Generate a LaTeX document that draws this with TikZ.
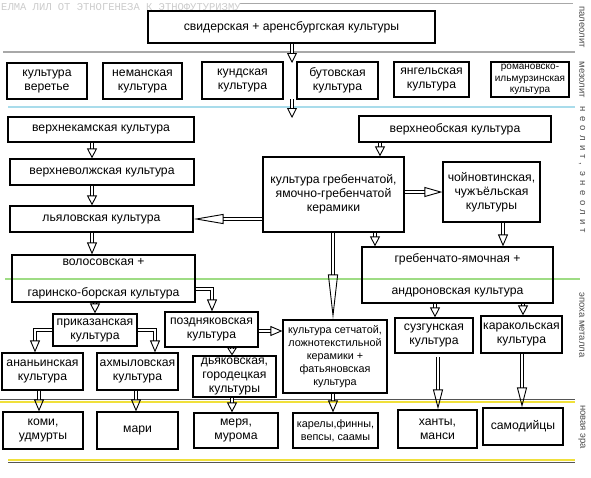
\documentclass[tikz,border=0pt]{standalone}
\usepackage{fontspec}
\setmainfont{Liberation Sans}
\newfontfamily\wmfont{Liberation Mono}
\newfontfamily\spacedfont[LetterSpace=45]{Liberation Sans}
\usetikzlibrary{arrows.meta}
\definecolor{bandgray}{HTML}{A8A8A8}
\definecolor{bandblue}{HTML}{A9DCEB}
\definecolor{bandgreen}{HTML}{9EDC84}
\definecolor{bandyellow}{HTML}{F0E03A}
\definecolor{banddark}{HTML}{555555}
\tikzset{
    box/.style={draw, line width=1.2pt, align=center, inner sep=1pt, font=\fontsize{12.2}{14}\selectfont},
    smallbox/.style={box, font=\fontsize{10.8}{13}\selectfont},
    blk/.style={draw, double, double distance=2.4pt, line width=0.9pt, -{Triangle[open, length=#1, width=10pt]}},
    blk/.default=10pt,
    era/.style={rotate=-90, font=\fontsize{9.5}{10}\selectfont, text=black!70},
    band/.style={line width=2.6pt}
}

\begin{document}
\begin{tikzpicture}[x=1pt, y=-1pt]
\useasboundingbox (0,0) rectangle (591,477);

% period bands
\draw[bandgray, line width=1pt] (240,3) -- (573,3);
\draw[band, bandgray] (3,52) -- (575,52);
\draw[band, bandblue] (8,107) -- (575,107);
\draw[band, bandgreen] (5,279) -- (580,279);
\draw[band, bandyellow] (0,402) -- (575,402);
\draw[banddark, line width=1.5pt] (0,399.5) -- (575,399.5);
\draw[band, bandyellow] (8,460) -- (575,460);
\draw[banddark, line width=1.5pt] (8,462.5) -- (575,462.5);

\node[font=\wmfont\fontsize{10.5}{12}\selectfont, text=black!20, anchor=west, inner sep=0pt] (wm) at (1,7) {ЕЛМА ЛИЛ ОТ ЭТНОГЕНЕЗА К ЭТНОФУТУРИЗМУ};

% era labels
\node[era] (paleo) at (582,27) {палеолит};
\node[era] (meso) at (582,80) {мезолит};
\node[era, font=\spacedfont\fontsize{9.5}{10}\selectfont] (neo) at (582,170) {неолит, энеолит};
\node[era] (metal) at (582,325) {эпоха металла};
\node[era] (newera) at (582,427) {новая эра};

% paleolithic and mesolithic
\node[box, minimum width=287, minimum height=32] (svid) at (291.5,27) {свидерская + аренсбургская культуры};
\node[box, minimum width=80, minimum height=36] (veret) at (47,81) {культура\\веретье};
\node[box, minimum width=79, minimum height=36] (neman) at (142.5,81) {неманская\\культура};
\node[box, minimum width=81, minimum height=37] (kund) at (242.5,80.5) {кундская\\культура};
\node[box, minimum width=81, minimum height=37] (butov) at (337.5,80.5) {бутовская\\культура};
\node[box, minimum width=75, minimum height=35] (yangel) at (431.5,79.5) {янгельская\\культура};
\node[box, minimum width=78, minimum height=35, font=\fontsize{10}{11.5}\selectfont] (romanov) at (530,79.5) {романовско-\\ильмурзинская\\культура};

% neolithic
\node[box, minimum width=186, minimum height=25] (vkam) at (101,129.5) {верхнекамская культура};
\node[box, minimum width=184, minimum height=26] (vvolzh) at (102,172) {верхневолжская культура};
\node[box, minimum width=183, minimum height=26] (lyal) at (101.5,219) {льяловская культура};
\node[box, minimum width=192, minimum height=26] (vob) at (455,129) {верхнеобская культура};
\node[box, minimum width=141, minimum height=75] (greb) at (333.5,194.5) {культура гребенчатой,\\ямочно-гребенчатой\\керамики};
\node[box, minimum width=97, minimum height=60] (choin) at (491.5,192) {чойновтинская,\\чужъёльская\\культуры};
\node[box, minimum width=183, minimum height=47] (volos) at (103.5,278.5) {волосовская +\\[17pt]гаринско-борская культура};
\node[box, minimum width=191, minimum height=56] (gryam) at (457.5,275) {гребенчато-ямочная +\\[18pt]андроновская культура};

% metal age
\node[box, minimum width=84, minimum height=32] (prikaz) at (95,330) {приказанская\\культура};
\node[box, minimum width=93, minimum height=35] (pozdn) at (211.5,329.5) {поздняковская\\культура};
\node[smallbox, minimum width=104, minimum height=73] (setch) at (335,356.5) {культура сетчатой,\\ложнотекстильной\\керамики +\\фатьяновская\\культура};
\node[box, minimum width=78, minimum height=35] (suzgun) at (434,335.5) {сузгунская\\культура};
\node[box, minimum width=81, minimum height=37] (karak) at (521.5,334.5) {каракольская\\культура};
\node[box, minimum width=81, minimum height=37] (anan) at (42.5,371.5) {ананьинская\\культура};
\node[box, minimum width=81, minimum height=37] (ahmyl) at (137.5,371.5) {ахмыловская\\культура};
\node[box, minimum width=83, minimum height=41] (dyak) at (234.5,376.5) {дьяковская,\\городецкая\\культуры};

% new era
\node[box, minimum width=80, minimum height=37] (komi) at (43,430.5) {коми,\\удмурты};
\node[box, minimum width=81, minimum height=37] (mari) at (137.5,430.5) {мари};
\node[box, minimum width=84, minimum height=35] (merya) at (236,430.5) {меря,\\мурома};
\node[smallbox, minimum width=85, minimum height=35] (karel) at (335.5,430.5) {карелы,финны,\\вепсы, саамы};
\node[box, minimum width=79, minimum height=38] (hanty) at (437.5,429) {ханты,\\манси};
\node[box, minimum width=80, minimum height=37] (samod) at (523,426.5) {самодийцы};

% arrows
\coordinate (m1) at (292,63);
\coordinate (m2) at (292,99);
\coordinate (m3) at (292,118);
\draw[blk] (292,0 |- svid.south) -- (m1);
\draw[blk] (m2) -- (m3);
\draw[blk] (92,0 |- vkam.south) -- (92,0 |- vvolzh.north);
\draw[blk] (92,0 |- vvolzh.south) -- (92,0 |- lyal.north);
\draw[blk=30pt] (greb.west |- lyal.east) -- (lyal.east);
\draw[blk] (380,0 |- vob.south) -- (380,0 |- greb.north);
\draw[blk=18pt] (greb.east |- 0,192) -- (choin.west |- 0,192);
\draw[blk=12pt] (92,0 |- lyal.south) -- (92,0 |- volos.north);
\draw[blk=45pt] (333,0 |- greb.south) -- (333,0 |- setch.north);
\draw[blk] (375,0 |- greb.south) -- (375,0 |- gryam.north);
\draw[blk=12pt] (503,0 |- choin.south) -- (503,0 |- gryam.north);
\draw[blk] (95,0 |- volos.south) -- (95,0 |- prikaz.north);
\draw[blk=12pt] (volos.east |- 0,289) -- (212,289) -- (212,0 |- pozdn.north);
\draw[blk=12pt] (prikaz.west |- 0,330) -- (35,330) -- (35,0 |- anan.north);
\draw[blk=12pt] (prikaz.east |- 0,330) -- (155,330) -- (155,0 |- ahmyl.north);
\draw[blk=12pt] (pozdn.east |- 0,331) -- (setch.west |- 0,331);
\draw[blk=8pt] (232,0 |- pozdn.south) -- (232,0 |- dyak.north);
\draw[blk] (435,0 |- gryam.south) -- (435,0 |- suzgun.north);
\draw[blk] (523,0 |- gryam.south) -- (523,0 |- karak.north);
\draw[blk=12pt] (39,0 |- anan.south) -- (39,0 |- komi.north);
\draw[blk=12pt] (136,0 |- ahmyl.south) -- (136,0 |- mari.north);
\draw[blk=10pt] (232,0 |- dyak.south) -- (232,0 |- merya.north);
\draw[blk=12pt] (333,0 |- setch.south) -- (333,0 |- karel.north);
\draw[blk=20pt] (438,357) -- (438,0 |- hanty.north);
\draw[blk=20pt] (522,0 |- karak.south) -- (522,0 |- samod.north);
\end{tikzpicture}
\end{document}
